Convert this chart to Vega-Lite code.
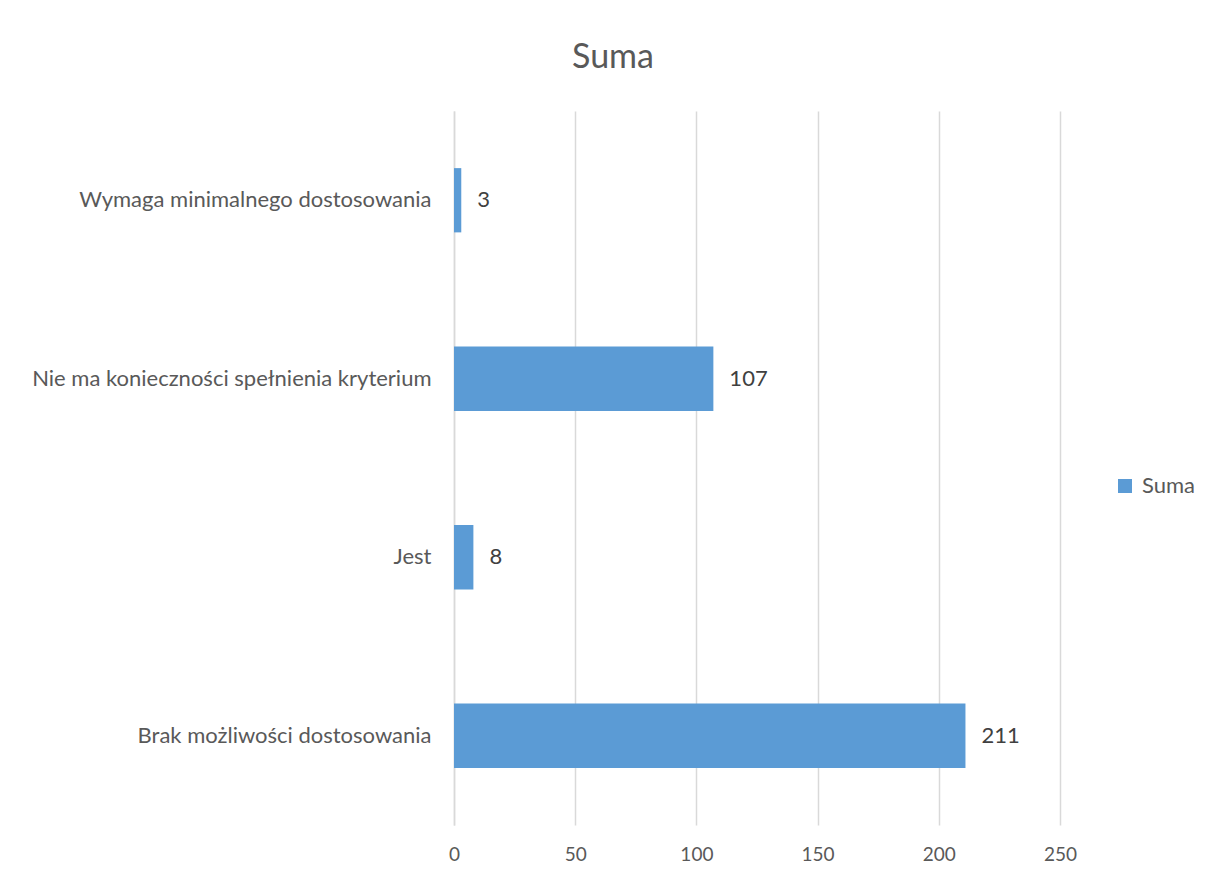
{
  "$schema": "https://vega.github.io/schema/vega-lite/v6.json",
  "autosize": {"type": "none"},
  "padding": {"left": 454, "top": 111, "right": 148, "bottom": 57},
  "width": 606,
  "height": 714,
  "background": "white",
  "title": {
    "text": "Suma",
    "fontSize": 34,
    "font": "Lato",
    "fontWeight": "normal",
    "color": "#595959",
    "anchor": "middle",
    "dx": -144,
    "offset": 36
  },
  "data": {
    "values": [
      {"kategoria": "Wymaga minimalnego dostosowania", "wartosc": 3, "seria": "Suma"},
      {"kategoria": "Nie ma konieczności spełnienia kryterium", "wartosc": 107, "seria": "Suma"},
      {"kategoria": "Jest", "wartosc": 8, "seria": "Suma"},
      {"kategoria": "Brak możliwości dostosowania", "wartosc": 211, "seria": "Suma"}
    ]
  },
  "encoding": {
    "y": {
      "field": "kategoria",
      "type": "nominal",
      "sort": ["Wymaga minimalnego dostosowania", "Nie ma konieczności spełnienia kryterium", "Jest", "Brak możliwości dostosowania"],
      "scale": {"paddingInner": 0.64, "paddingOuter": 0.32},
      "axis": {
        "title": null,
        "ticks": false,
        "domain": true,
        "domainColor": "#d9d9d9",
        "domainWidth": 1.5,
        "labelPadding": 23,
        "labelFontSize": 22,
        "labelFont": "Lato",
        "labelColor": "#595959",
        "labelLimit": 500
      }
    },
    "x": {
      "field": "wartosc",
      "type": "quantitative",
      "scale": {"domain": [0, 250], "nice": false},
      "axis": {
        "title": null,
        "values": [0, 50, 100, 150, 200, 250],
        "ticks": false,
        "domain": false,
        "grid": true,
        "gridColor": "#d9d9d9",
        "gridWidth": 1.5,
        "labelFlush": false,
        "labelPadding": 20,
        "labelFontSize": 19,
        "labelFont": "Lato",
        "labelColor": "#595959"
      }
    }
  },
  "layer": [
    {
      "mark": {"type": "bar"},
      "encoding": {
        "color": {
          "field": "seria",
          "type": "nominal",
          "scale": {"range": ["#5B9BD5"]},
          "legend": {
            "title": null,
            "orient": "none",
            "legendX": 660,
            "legendY": 364,
            "padding": 0,
            "symbolType": "square",
            "symbolSize": 196,
            "symbolStrokeWidth": 0,
            "labelOffset": 6,
            "labelFontSize": 22,
            "labelFont": "Lato",
            "labelColor": "#595959"
          }
        }
      }
    },
    {
      "mark": {"type": "text", "align": "left", "dx": 16, "fontSize": 22, "font": "Lato", "color": "#404040"},
      "encoding": {
        "text": {"field": "wartosc", "type": "quantitative"}
      }
    }
  ],
  "config": {"view": {"stroke": null}}
}
